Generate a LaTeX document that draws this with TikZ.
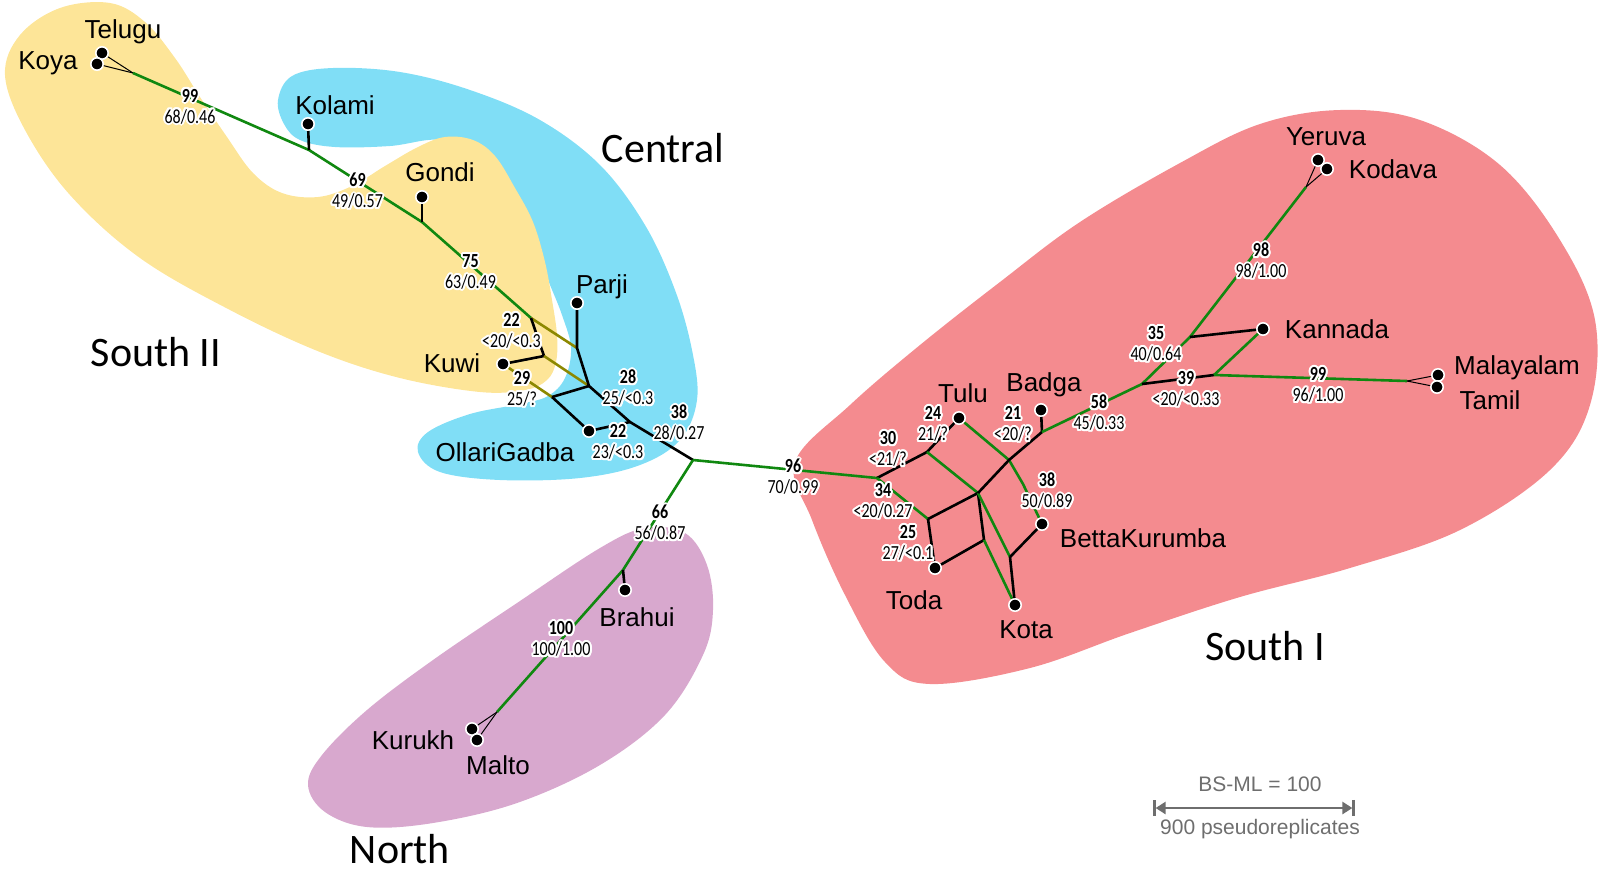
\documentclass[tikz,border=0pt]{standalone}
\usepackage{fontspec}
\setmainfont{Liberation Sans}
\newfontfamily\supportfont[FakeStretch=0.8]{Carlito}
\newfontfamily\groupfont{Carlito}
\usepackage{contour}
\contourlength{1pt}
\usetikzlibrary{arrows.meta}
\definecolor{southtwocolor}{RGB}{253, 229, 152}
\definecolor{centralcolor}{RGB}{128, 222, 246}
\definecolor{southonecolor}{RGB}{244, 139, 143}
\definecolor{northcolor}{RGB}{216, 168, 206}
\definecolor{treegreen}{RGB}{16, 136, 16}
\definecolor{olivecolor}{RGB}{140, 136, 0}
\definecolor{scalecolor}{RGB}{110, 110, 110}
\newcommand{\supval}[2]{\contour{white}{\textbf{#1}}\\\contour{white}{#2}}
\tikzset{
	tree/.style={line width=1.3pt, draw=treegreen, line join=round},
	split/.style={line width=1.3pt, draw=black, line join=round},
	reticulate/.style={line width=1.3pt, draw=olivecolor},
	twin/.style={line width=0.5pt, draw=black},
	taxon/.style={circle, fill=black, draw=white, line width=0.8pt, inner sep=0pt, minimum size=6.2pt},
	language/.style={font=\fontsize{13}{15}\selectfont},
	support/.style={font=\supportfont\fontsize{10}{10.5}\selectfont, align=center, inner sep=0pt},
	group/.style={font=\groupfont\fontsize{21}{24}\selectfont, inner sep=1pt},
	scalebar/.style={line width=1.3pt, draw=scalecolor, >={Triangle[length=5pt, width=6pt]}, |<->|},
	scaletext/.style={font=\fontsize{10.5}{12}\selectfont, text=scalecolor}
}

\begin{document}
\begin{tikzpicture}[x=0.5pt, y=-0.5pt]
	\useasboundingbox (0,0) rectangle (1600,869);

	% Groups
	\fill[centralcolor] plot[smooth cycle, tension=0.6] coordinates {
		(278,100) (292,76) (333,68) (400,72) (470,90) (540,120) (600,165) (645,225)
		(675,290) (692,350) (697,400) (680,440) (640,465) (580,478) (500,480) (440,472)
		(418,452) (428,432) (470,414) (520,404) (548,396) (565,378) (571,348) (562,315)
		(548,280) (530,235) (505,185) (478,158) (440,140) (390,146) (335,147) (300,140) (284,124)};
	\fill[southtwocolor] plot[smooth cycle, tension=0.6] coordinates {
		(5,75) (20,35) (60,8) (110,3) (145,22) (175,58) (200,97) (227,137) (253,173)
		(282,193) (318,197) (352,186) (385,166) (418,147) (445,137) (473,140) (495,156)
		(515,188) (533,222) (545,262) (552,300) (557,335) (556,362) (547,380) (525,390)
		(480,392) (400,378) (320,352) (230,310) (140,258) (70,195) (25,130)};
	\fill[southonecolor] plot[smooth cycle, tension=0.6] coordinates {
		(795,462) (850,405) (920,345) (1000,282) (1080,222) (1180,163) (1260,124)
		(1340,110) (1420,120) (1500,165) (1560,240) (1595,320) (1590,405) (1550,470)
		(1460,530) (1350,568) (1240,597) (1130,633) (1030,668) (930,684) (885,662)
		(845,595) (812,520)};
	\fill[northcolor] plot[smooth cycle, tension=0.6] coordinates {
		(600,548) (645,528) (685,533) (707,565) (713,610) (703,655) (665,715) (600,765)
		(517,803) (433,823) (367,827) (325,812) (308,785) (322,755) (367,710) (433,660)
		(517,603)};

	\node[group] (southtwo) at (156,352) {South II};
	\node[group] (central) at (663,148) {Central};
	\node[group] (southone) at (1265,646) {South I};
	\node[group] (north) at (400,849) {North};

	% Splits
	\coordinate (v0) at (133,73);
	\coordinate (kol) at (309,150);
	\coordinate (gon) at (422,222);
	\coordinate (p1) at (531,318);
	\coordinate (p2) at (577,348);
	\coordinate (p3) at (544,356);
	\coordinate (q) at (589,386);
	\coordinate (t) at (552,397);
	\coordinate (s) at (630,422);
	\coordinate (root) at (693,460);
	\coordinate (bra) at (623,570);
	\coordinate (nsp) at (497,712);
	\coordinate (s96) at (877,478);
	\coordinate (a) at (927,452);
	\coordinate (b) at (928,519);
	\coordinate (c) at (978,493);
	\coordinate (d) at (984,540);
	\coordinate (f) at (1010,557);
	\coordinate (e) at (1009,460);
	\coordinate (ebend) at (1023,484);
	\coordinate (g) at (1042,432);
	\coordinate (h) at (1142,384);
	\coordinate (k) at (1190,337);
	\coordinate (ysp) at (1306,187);
	\coordinate (l) at (1214,375);
	\coordinate (m) at (1407,381);

	% Languages
	\node[taxon] (telugu) at (102,53) {};
	\node[taxon] (koya) at (97,64) {};
	\node[taxon] (kolami) at (308,124) {};
	\node[taxon] (gondi) at (422,197) {};
	\node[taxon] (parji) at (577,303) {};
	\node[taxon] (kuwi) at (503,364) {};
	\node[taxon] (ollari) at (589,431) {};
	\node[taxon] (brahui) at (625,590) {};
	\node[taxon] (kurukh) at (472,729) {};
	\node[taxon] (malto) at (477,740) {};
	\node[taxon] (yeruva) at (1318,160) {};
	\node[taxon] (kodava) at (1327,169) {};
	\node[taxon] (kannada) at (1263,329) {};
	\node[taxon] (malayalam) at (1438,375) {};
	\node[taxon] (tamil) at (1437,387) {};
	\node[taxon] (tulu) at (959,418) {};
	\node[taxon] (badga) at (1041,410) {};
	\node[taxon] (betta) at (1042,524) {};
	\node[taxon] (toda) at (935,568) {};
	\node[taxon] (kota) at (1015,605) {};

	\node[language] (telugulbl) at (123,32) {Telugu};
	\node[language] (koyalbl) at (48,63) {Koya};
	\node[language] (kolamilbl) at (335,105) {Kolami};
	\node[language] (gondilbl) at (440,172) {Gondi};
	\node[language] (parjilbl) at (602,287) {Parji};
	\node[language] (kuwilbl) at (452,363) {Kuwi};
	\node[language] (ollarilbl) at (505,452) {OllariGadba};
	\node[language] (brahuilbl) at (637,617) {Brahui};
	\node[language] (kurukhlbl) at (413,740) {Kurukh};
	\node[language] (maltolbl) at (498,765) {Malto};
	\node[language] (yeruvalbl) at (1326,137) {Yeruva};
	\node[language] (kodavalbl) at (1393,169) {Kodava};
	\node[language] (kannadalbl) at (1337,329) {Kannada};
	\node[language] (malayalamlbl) at (1517,368) {Malayalam};
	\node[language] (tamillbl) at (1490,400) {Tamil};
	\node[language] (tululbl) at (963,393) {Tulu};
	\node[language] (badgalbl) at (1044,385) {Badga};
	\node[language] (bettalbl) at (1143,538) {BettaKurumba};
	\node[language] (todalbl) at (914,600) {Toda};
	\node[language] (kotalbl) at (1026,630) {Kota};

	% Edges
	\draw[twin] (telugu) -- (v0);
	\draw[twin] (koya) -- (v0);
	\draw[tree] (v0) -- (kol) -- (gon) -- (p1);
	\draw[split] (kolami) -- (kol);
	\draw[split] (gondi) -- (gon);
	\draw[reticulate] (p1) -- (p2);
	\draw[split] (p1) -- (p3);
	\draw[split] (kuwi) -- (p3);
	\draw[reticulate] (p3) -- (q);
	\draw[split] (parji) -- (p2) -- (q);
	\draw[reticulate] (kuwi) -- (t);
	\draw[split] (t) -- (q);
	\draw[split] (t) -- (ollari);
	\draw[split] (q) -- (s) -- (root);
	\draw[split] (ollari) -- (s);

	\draw[tree] (root) -- (bra) -- (nsp);
	\draw[split] (brahui) -- (bra);
	\draw[twin] (kurukh) -- (nsp);
	\draw[twin] (malto) -- (nsp);

	\draw[tree] (root) -- (s96);
	\draw[split] (s96) -- (a) -- (tulu);
	\draw[tree] (a) -- (c);
	\draw[tree] (s96) -- (b);
	\draw[split] (b) -- (c);
	\draw[split] (b) -- (toda) -- (d);
	\draw[split] (c) -- (d);
	\draw[tree] (d) -- (kota);
	\draw[tree] (c) -- (f);
	\draw[split] (f) -- (kota);
	\draw[split] (f) -- (betta);
	\draw[tree] (tulu) -- (e) -- (ebend) -- (betta);
	\draw[split] (c) -- (e) -- (g);
	\draw[split] (badga) -- (g);
	\draw[tree] (g) -- (h) -- (k) -- (ysp);
	\draw[twin] (yeruva) -- (ysp);
	\draw[twin] (kodava) -- (ysp);
	\draw[split] (k) -- (kannada);
	\draw[split] (h) -- (l);
	\draw[tree] (l) -- (kannada);
	\draw[tree] (l) -- (m);
	\draw[twin] (malayalam) -- (m);
	\draw[twin] (tamil) -- (m);

	% Support values
	\node[support] (bs99a) at (190,107.5) {\supval{99}{68/0.46}};
	\node[support] (bs69) at (357.5,192) {\supval{69}{49/0.57}};
	\node[support] (bs75) at (470.5,273) {\supval{75}{63/0.49}};
	\node[support] (bs22a) at (511.5,332) {\supval{22}{<20/<0.3}};
	\node[support] (bs29) at (522,390) {\supval{29}{25/?}};
	\node[support] (bs28) at (628,389) {\supval{28}{25/<0.3}};
	\node[support] (bs22b) at (618,443) {\supval{22}{23/<0.3}};
	\node[support] (bs38a) at (679,424) {\supval{38}{28/0.27}};
	\node[support] (bs66) at (660,524) {\supval{66}{56/0.87}};
	\node[support] (bs100) at (561,640) {\supval{100}{100/1.00}};
	\node[support] (bs96) at (793,478) {\supval{96}{70/0.99}};
	\node[support] (bs30) at (888,450) {\supval{30}{<21/?}};
	\node[support] (bs24) at (933,425) {\supval{24}{21/?}};
	\node[support] (bs34) at (883,502) {\supval{34}{<20/0.27}};
	\node[support] (bs25) at (908,544) {\supval{25}{27/<0.1}};
	\node[support] (bs21) at (1013,425) {\supval{21}{<20/?}};
	\node[support] (bs38b) at (1047,492) {\supval{38}{50/0.89}};
	\node[support] (bs58) at (1099,414) {\supval{58}{45/0.33}};
	\node[support] (bs35) at (1156,345) {\supval{35}{40/0.64}};
	\node[support] (bs39) at (1186,390) {\supval{39}{<20/<0.33}};
	\node[support] (bs99b) at (1318,386) {\supval{99}{96/1.00}};
	\node[support] (bs98) at (1261,262) {\supval{98}{98/1.00}};

	% Scale
	\coordinate (scaleleft) at (1153,808);
	\coordinate (scaleright) at (1355,808);
	\draw[scalebar] (scaleleft) -- (scaleright);
	\node[scaletext] (scaletop) at (1260,784) {BS-ML = 100};
	\node[scaletext] (scalebottom) at (1260,829) {900 pseudoreplicates};
\end{tikzpicture}
\end{document}
